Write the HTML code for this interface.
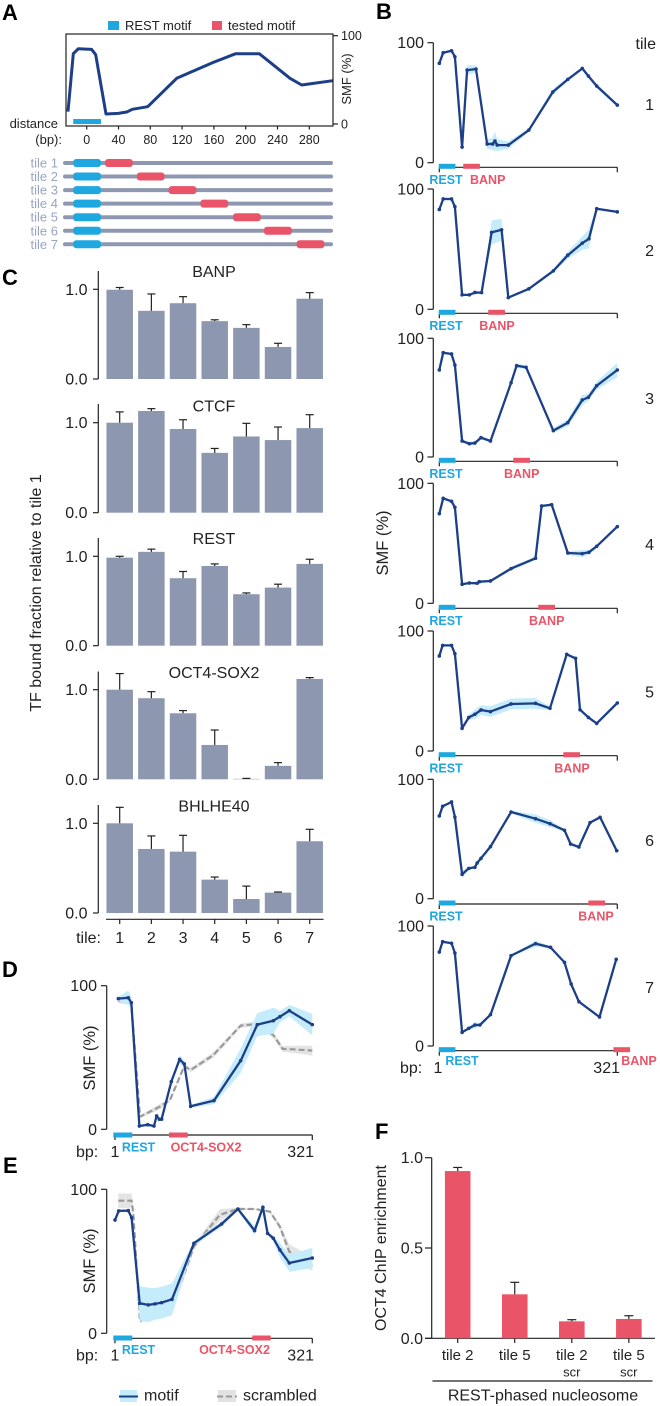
<!DOCTYPE html>
<html lang="en">
<head>
<meta charset="utf-8">
<title>REST-phased nucleosome SMF figure</title>
<style>
html,body{margin:0;padding:0;background:#fff;width:660px;height:1406px;overflow:hidden}
svg{display:block;font-family:"Liberation Sans",sans-serif;fill:#222}
.panel{font-size:22px;font-weight:bold;fill:#000}
.tk{font-size:16px}
.sm{font-size:13px}
.tl{font-size:13px;fill:#97a4c4}
.mb{font-size:12.5px;font-weight:bold;fill:#1fa8e0}
.mr{font-size:12.5px;font-weight:bold;fill:#ea5468}
</style>
</head>
<body>
<svg id="fig" xmlns="http://www.w3.org/2000/svg" width="660" height="1406" viewBox="0 0 660 1406">
  <defs><clipPath id="frameClip"><rect x="66" y="34" width="267" height="92"/></clipPath></defs>

  <text class="panel" x="2" y="20">A</text>
  <text class="panel" x="376" y="19">B</text>
  <text class="panel" x="2" y="285">C</text>
  <text class="panel" x="2" y="977">D</text>
  <text class="panel" x="3" y="1173">E</text>
  <text class="panel" x="375" y="1139">F</text>

  <!-- Panel A legend and labels -->
  <rect x="108" y="21" width="11" height="9" fill="#1fa8e0"/>
  <text x="125" y="30" font-size="13">REST motif</text>
  <rect x="212" y="21" width="10" height="9" fill="#ea5468"/>
  <text x="228" y="30" font-size="13">tested motif</text>
  <text class="sm" x="58" y="128" text-anchor="end">distance</text>
  <text class="sm" x="62" y="144" text-anchor="end">(bp):</text>
  <text font-size="13" transform="translate(351,79) rotate(-90)" text-anchor="middle">SMF (%)</text>

  <!-- Panel B static labels -->
  <text class="tk" x="656" y="49" text-anchor="end">tile</text>
  <text class="tk" transform="translate(388,543) rotate(-90)" text-anchor="middle" style="font-size:16.5px">SMF (%)</text>
  <text class="tk" x="400" y="1073">bp:</text>
  <text class="tk" x="438" y="1073" text-anchor="middle">1</text>
  <text class="tk" x="620" y="1073" text-anchor="end">321</text>

  <!-- Panel C static labels -->
  <text class="tk" transform="translate(41,593) rotate(-90)" text-anchor="middle">TF bound fraction relative to tile 1</text>
  <text class="tk" x="101" y="943" text-anchor="end">tile:</text>

  <!-- Panel D static labels -->
  <text class="tk" transform="translate(95,1058) rotate(-90)" text-anchor="middle" style="font-size:16.5px">SMF (%)</text>
  <text class="mb" x="138.5" y="1151.5" text-anchor="middle">REST</text>
  <text class="mr" x="206" y="1151.5" text-anchor="middle">OCT4-SOX2</text>
  <text class="tk" x="76" y="1157">bp:</text>
  <text class="tk" x="115" y="1157" text-anchor="middle">1</text>
  <text class="tk" x="314" y="1157" text-anchor="end">321</text>

  <!-- Panel E static labels -->
  <text class="tk" transform="translate(95,1261) rotate(-90)" text-anchor="middle" style="font-size:16.5px">SMF (%)</text>
  <text class="mb" x="138.5" y="1354" text-anchor="middle">REST</text>
  <text class="mr" x="234.5" y="1354" text-anchor="middle">OCT4-SOX2</text>
  <text class="tk" x="76" y="1360.5">bp:</text>
  <text class="tk" x="115" y="1360.5" text-anchor="middle">1</text>
  <text class="tk" x="314" y="1360.5" text-anchor="end">321</text>

  <!-- D/E legend -->
  <rect x="120" y="1390" width="17" height="12" fill="#c5ecfa"/>
  <line x1="119" x2="138" y1="1396.5" y2="1396.5" stroke="#1c3f87" stroke-width="2"/>
  <text class="tk" x="144" y="1400.5">motif</text>
  <rect x="218" y="1390" width="18" height="12" fill="#e2e2e2"/>
  <line x1="217" x2="237" y1="1396.5" y2="1396.5" stroke="#999" stroke-width="2" stroke-dasharray="6 3"/>
  <text class="tk" x="243" y="1400.5">scrambled</text>

  <!-- Panel F static labels -->
  <text class="tk" transform="translate(386,1248) rotate(-90)" text-anchor="middle">OCT4 ChIP enrichment</text>
  <line x1="432.5" x2="652.5" y1="1381" y2="1381" stroke="#222" stroke-width="1.2"/>
  <text class="tk" x="543" y="1400.5" text-anchor="middle">REST-phased nucleosome</text>
</svg>

<script>
// ---------- Panel A data ----------
const aBp = [-23.5,-16.8,-10.5,6.2,11.3,24.3,39.8,50.3,57.4,76.7,113.2,159.3,187.4,217.1,255.7,270.4,309.4];
const aSmf = [14,79.6,85.3,84.5,78.5,11.3,12,13.6,16.6,19.6,51.7,69.8,79.6,79.6,51.7,44.2,49];
const aTicks = [0,40,80,120,160,200,240,280];
const aTileNames = ['tile 1','tile 2','tile 3','tile 4','tile 5','tile 6','tile 7'];
const aTestedStart = [23,63,103,143,184,223,264];
const aYTicks = [0,100];

// ---------- Panel B data ----------
const tile1Bp = [1,8,23,29,42,51,67,87,97,101,105,125,162,205,232,258,269,284,321];
const tile1Smf = [82.8,91.7,93.3,88.3,13,77.2,78,15.6,15.6,18,14.7,14.7,27.2,58.9,69.4,78.6,72.2,63.9,48];
const tile1Band = [1,1,1,1,3,4,3,4,5,8,5,3,1.5,2.5,1.5,1,1.5,2,1];
const tile2Bp = [1,8,23,29,42,55,65,77,95,113,125,162,206,232,258,270,284,321];
const tile2Smf = [83,91.7,91.7,85.3,12,12,14,13.9,63.9,66.1,9.7,17,31.9,45,55,58.6,83.6,81];
const tile2Band = [1,1,1,1,1,1,1,1,10,9,1,1,1.5,3,5.5,8,1,1];
const tile3Bp = [1,8,23,29,42,55,65,76,93,130,140,157,206,232,258,269,284,321];
const tile3Smf = [73.3,87.9,86.8,77.5,13.5,11.2,11.8,16.3,13.5,62.6,76.9,75.6,22.2,28.9,48,50.3,60.1,73.3];
const tile3Band = [1,1,1,1,1,1.5,1.5,1.5,1,1,2,1.5,2,3,4.5,3,3.5,6];
const tile4Bp = [1,8,23,29,42,55,69,73,93,130,174,185,203,232,258,270,284,321];
const tile4Smf = [74.7,87.5,85,80,15.8,16.9,16.7,18,18.6,28.9,37.5,81.1,82.2,41.9,41.4,42.5,47.5,63.9];
const tile4Band = [1,1.5,1,1,1,1,1,1,1,1.5,1.5,1,1,1.5,3,2,1,1];
const tile5Bp = [1,7,23,29,42,54,65,76,93,130,174,200,230,246,254,269,284,321];
const tile5Smf = [79.2,88,88,81.1,18.9,28,30.6,34.2,32.8,39.2,39.7,35.6,80.6,77.2,34.4,28,23,40];
const tile5Band = [1,1,1,1,1.5,2,4,4,4.5,4.5,4.5,1.5,1,1,1,1,1,1];
const tile6Bp = [1,7,23,29,42,54,65,69,76,93,130,174,200,226,237,252,272,290,320];
const tile6Smf = [69.3,77.4,81,68.4,20.4,25.4,26.3,29.9,33.8,43.6,72.6,67,62.8,57.3,45.8,43.3,63.7,68.2,40.2];
const tile6Band = [1,1,1,1,3,1,1,1,1,1,1,3.5,3,1,1,1,1,1,1];
const tile7Bp = [1,7,23,29,42,54,65,74,93,130,174,201,226,238,252,289,319];
const tile7Smf = [78.3,86.9,85.6,77.5,11.4,14.7,17.5,17.5,26.1,75.3,85.3,82.2,69.7,51.7,36.9,24.2,72.2];
const tile7Band = [.5,.5,1,.5,1,1,3,1,.5,.5,2.5,1,.5,.5,.5,.5,1];
const allTileBp = [tile1Bp,tile2Bp,tile3Bp,tile4Bp,tile5Bp,tile6Bp,tile7Bp];
const allTileSmf = [tile1Smf,tile2Smf,tile3Smf,tile4Smf,tile5Smf,tile6Smf,tile7Smf];
const allTileBand = [tile1Band,tile2Band,tile3Band,tile4Band,tile5Band,tile6Band,tile7Band];
const banpMotifStart = [44,89,134,179,224,269,314];
const motifLength = 30;
const smfTicks = [0,100];
const tileNumbers = ['1','2','3','4','5','6','7'];

// ---------- Panel C data ----------
const cTargets = ['BANP','CTCF','REST','OCT4-SOX2','BHLHE40'];
const banpValues = [.995,.76,.845,.645,.57,.357,.895];
const banpErrorTops = [1.02,.948,.918,.66,.606,.398,.963];
const ctcfValues = [1,1.13,.93,.665,.847,.807,.94];
const ctcfErrorTops = [1.12,1.156,1.033,.714,.993,.952,1.089];
const restValues = [.985,1.05,.755,.892,.576,.65,.915];
const restErrorTops = [1,1.08,.83,.915,.59,.688,.967];
const octValues = [1,.905,.737,.383,.005,.15,1.12];
const octErrorTops = [1.18,.978,.767,.55,.01,.186,1.135];
const bhlheValues = [1,.714,.684,.372,.156,.227,.8];
const bhlheErrorTops = [1.178,.859,.866,.401,.3,.234,.933];
const cValues = [banpValues,ctcfValues,restValues,octValues,bhlheValues];
const cErrorTops = [banpErrorTops,ctcfErrorTops,restErrorTops,octErrorTops,bhlheErrorTops];
const cCategories = ['1','2','3','4','5','6','7'];
const cYTicks = [0,1];

// ---------- Panel D data ----------
const dMotifBp = [6.4,22.6,27.5,40.5,54,64.2,68.5,72.9,76.6,92.3,105.8,113.4,123.7,161.5,204.8,231.8,257.7,268.5,283.7,321];
const dMotifSmf = [91,91.6,88.2,2.3,3.2,2.3,9.3,7,7,33.2,48.7,45.5,16,20,47.8,72.9,75.6,78.4,82.6,72.9];
const dMotifBand = [1.5,5,4,1,1,1,1,1,1,1,3,2,1,2.5,8.5,8,9,4,4,7.5];
const dScrBp = [6.4,22.6,27.5,41.5,74,90.2,113.4,123.7,160.5,204.8,231.8,257.7,272.9,290,321];
const dScrSmf = [89.6,88.9,87.7,8.8,15.8,20.4,44,41.3,51.7,72.2,73.3,65.7,56,55.7,54.8];
const dScrBand = [2,2,1,1,2,1,1,1.5,2,1.5,2,2,2,2.5,3.5];

// ---------- Panel E data ----------
const eMotifBp = [1,7,22.6,28,41,55,65.9,76.6,93.4,129,173.9,200.4,227.4,240.9,248.5,257.7,268.5,283.7,321];
const eMotifSmf = [78.7,85,85.2,80.3,20.8,19.7,20.4,21.3,23.6,62.5,75.9,86.3,71.3,87.5,69.4,66,57.9,48.8,52.3];
const eMotifBand = [.5,1,1,1,12,12,11,11,11,1.5,2,1,3,3,1,2,5,6,7];
const eScrBp = [6.4,28,30.7,41.5,55,68.5,93,129,171,200.4,227.4,252.3,268.5,283.7,301,321];
const eScrSmf = [92.1,92.1,83.3,8.1,12.7,13.9,16.2,60.2,82.2,86.3,86.3,84.5,74,56.7,52.8,46.3];
const eScrBand = [5,5,3,1,2,3,3,1.5,4,1,.5,1,2,5,5,3];

// ---------- Panel F data ----------
const fCategories = ['tile 2','tile 5','tile 2','tile 5'];
const fSubLabels = ['','','scr','scr'];
const fValues = [.926,.2435,.094,.107];
const fErrorTops = [.946,.31,.103,.125];
const fYTicks = ['0.0','0.5','1.0'];
const fYTickValues = [0,.5,1];

// ---------- drawing ----------
const svg = document.getElementById('fig');
const NS = 'http://www.w3.org/2000/svg';
const BLUE = '#1fa8e0', RED = '#ea5468', NAVY = '#1c3f87', BAND = '#c5ecfa', INK = '#222', SLATE = '#8d98b0';

function make(tag, attrs, text) {
  const n = document.createElementNS(NS, tag);
  for (const k in attrs) n.setAttribute(k, attrs[k]);
  if (text !== undefined) n.textContent = text;
  svg.appendChild(n);
  return n;
}
function rule(x1, y1, x2, y2, sw) {
  const el = make('line', {x1, y1, x2, y2, stroke: INK, 'stroke-width': sw || 1.2});
  
  
  return el;
}
function tickText(x, y, anchor, txt, cls) {
  const el = make('text', {x, y, 'text-anchor': anchor, class: cls}, txt);
  
  
  return el;
}
function pathFrom(xs, ys, xf, yf) {
  return xs.map((v, i) => (i ? 'L' : 'M') + xf(v).toFixed(1) + ' ' + yf(ys[i]).toFixed(1)).join('');
}
function bandPoints(xs, ys, hs, xf, yf) {
  const up = xs.map((v, i) => xf(v).toFixed(1) + ',' + yf(ys[i] + hs[i]).toFixed(1));
  const lo = xs.map((v, i) => xf(v).toFixed(1) + ',' + yf(ys[i] - hs[i]).toFixed(1)).reverse();
  return up.concat(lo).join(' ');
}
function drawMotifSeries(xs, ys, hs, xf, yf) {
  const b = make('polygon', {points: bandPoints(xs, ys, hs, xf, yf), fill: BAND});
  
  
  const l = make('path', {d: pathFrom(xs, ys, xf, yf), fill: 'none', stroke: NAVY, 'stroke-width': 2.3, 'stroke-linejoin': 'round'});
  
  
  xs.forEach((v, i) => {
    const c = make('circle', {cx: xf(v), cy: yf(ys[i]), r: 1.8, fill: NAVY});
    
    
  });
}
function drawScrambled(xs, ys, hs, xf, yf) {
  const b = make('polygon', {points: bandPoints(xs, ys, hs, xf, yf), fill: '#d8d8d8', 'fill-opacity': .7});
  
  
  const l = make('path', {d: pathFrom(xs, ys, xf, yf), fill: 'none', stroke: '#9a9a9a', 'stroke-width': 2.2, 'stroke-dasharray': '6 3'});
  
  
}
function motifBar(x1, x2, y, color) {
  const el = make('rect', {x: x1, y: y - 2.5, width: x2 - x1, height: 5, fill: color});
  
  
  return el;
}

// Panel A
(function () {
  const xA = d => 86.7 + d * 0.795;
  const yA = v => 124 - v * 0.883;
  const mot = make('rect', {x: xA(-17), y: 119, width: xA(18) - xA(-17), height: 5, fill: BLUE});
  
  
  const ln = make('path', {d: pathFrom(aBp, aSmf, xA, yA), fill: 'none', stroke: NAVY, 'stroke-width': 3, 'clip-path': 'url(#frameClip)', 'stroke-linejoin': 'round'});
  
  
  const fr = make('rect', {x: 66, y: 34, width: 267, height: 92, fill: 'none', stroke: INK, 'stroke-width': 1.2});
  
  
  aTicks.forEach(t => {
    rule(xA(t), 126, xA(t), 129.5);
    const lb = make('text', {x: xA(t), y: 144, 'text-anchor': 'middle', 'font-size': 12.5}, String(t));
    
    
  });
  aYTicks.forEach(t => {
    rule(333, yA(t), 338, yA(t));
    const lb = make('text', {x: 341, y: yA(t) + 4.5, 'font-size': 12.5}, String(t));
    
    
  });
  aTileNames.forEach((name, i) => {
    const y = 163 + i * 13.55;
    const lb = make('text', {x: 58, y: y + 4.5, 'text-anchor': 'end', class: 'tl'}, name);
    
    
    const tr = make('rect', {x: 63, y: y - 2, width: 270, height: 4, rx: 2, fill: SLATE});
    
    
    const bp = make('rect', {x: xA(-17), y: y - 4, width: xA(18) - xA(-17), height: 8, rx: 3, fill: BLUE});
    
    
    const rp = make('rect', {x: xA(aTestedStart[i]), y: y - 4, width: 35 * 0.795, height: 8, rx: 3, fill: RED});
    
    
  });
})();

// Panel B
const bLayout = [
  {top: 42.7, zero: 162.7, axis: 167.3, lab: 184, numY: 110, banpX: 487.7},
  {top: 189, zero: 309.3, axis: 313.3, lab: 330, numY: 256, banpX: 497},
  {top: 338.3, zero: 457, axis: 461.3, lab: 478, numY: 404, banpX: 521.7},
  {top: 483.3, zero: 603.3, axis: 608.3, lab: 625, numY: 550, banpX: 546.7},
  {top: 631, zero: 751, axis: 755.7, lab: 772.5, numY: 697.5, banpX: 572},
  {top: 779.3, zero: 898.7, axis: 904, lab: 920.5, numY: 846, banpX: 596},
  {top: 926, zero: 1046, axis: 1050.7, lab: 1065, numY: 993, banpX: 639}
];
const xB = bp => 439.3 + (bp - 1) * 178 / 320;
bLayout.forEach((row, i) => {
  const yB = v => row.zero - v * (row.zero - row.top) / 100;
  rule(433.3, row.top, 433.3, row.zero);
  smfTicks.forEach(t => {
    rule(427.5, yB(t), 433.3, yB(t));
    tickText(424, yB(t) + 5.5, 'end', String(t), 'tk');
  });
  rule(439.3, row.axis, 617.3, row.axis);
  rule(439.3, row.axis, 439.3, row.axis + 5);
  rule(617.3, row.axis, 617.3, row.axis + 5);
  drawMotifSeries(allTileBp[i], allTileSmf[i], allTileBand[i], xB, yB);
  motifBar(xB(0), xB(30), row.axis - 1, BLUE);
  motifBar(xB(banpMotifStart[i]), xB(banpMotifStart[i] + motifLength), row.axis - 1, RED);
  const r = make('text', {x: i === 6 ? 462 : 446, y: row.lab, 'text-anchor': 'middle', class: 'mb'}, 'REST');
  
  
  const b = make('text', {x: row.banpX, y: row.lab, 'text-anchor': 'middle', class: 'mr'}, 'BANP');
  
  
  tickText(654, row.numY, 'end', tileNumbers[i], 'tk');
});

// Panel C
const cLayout = [
  {one: 289.3, zero: 379, top: 271, titleY: 277},
  {one: 422.7, zero: 512.7, top: 404, titleY: 411.7},
  {one: 556.3, zero: 645.7, top: 538, titleY: 544},
  {one: 689.7, zero: 779.3, top: 671.5, titleY: 678},
  {one: 823.3, zero: 913, top: 805, titleY: 811.7}
];
const xC = i => 119.7 + i * 31.67;
cLayout.forEach((row, k) => {
  const yC = v => row.zero - v * (row.zero - row.one);
  rule(98.3, row.top, 98.3, row.zero);
  cYTicks.forEach(t => {
    rule(93, yC(t), 98.3, yC(t));
    tickText(87.5, yC(t) + 5.5, 'end', t.toFixed(1), 'tk');
  });
  const ttl = make('text', {x: 214, y: row.titleY, 'text-anchor': 'middle', class: 'tk'}, cTargets[k]);
  
  
  cValues[k].forEach((v, i) => {
    const bar = make('rect', {x: xC(i) - 13.25, y: yC(v), width: 26.5, height: row.zero - yC(v), fill: SLATE});
    
    
    rule(xC(i), yC(v), xC(i), yC(cErrorTops[k][i]));
    rule(xC(i) - 4, yC(cErrorTops[k][i]), xC(i) + 4, yC(cErrorTops[k][i]));
  });
});
rule(106, 919.3, 323.5, 919.3);
cCategories.forEach((c, i) => {
  rule(xC(i), 919.3, xC(i), 924);
  tickText(xC(i), 943, 'middle', c, 'tk');
});

// Panel D
(function () {
  const xD = bp => 115 + (bp - 1) * 197.3 / 320;
  const yD = v => 1129.3 - v * 1.436;
  rule(106.7, yD(100), 106.7, yD(0));
  smfTicks.forEach(t => {
    rule(101, yD(t), 106.7, yD(t));
    tickText(97, yD(t) + 5.5, 'end', String(t), 'tk');
  });
  rule(115, 1135, 312.3, 1135);
  rule(115, 1135, 115, 1140);
  rule(312.3, 1135, 312.3, 1140);
  drawScrambled(dScrBp, dScrSmf, dScrBand, xD, yD);
  drawMotifSeries(dMotifBp, dMotifSmf, dMotifBand, xD, yD);
  motifBar(113.3, 132.3, 1135, BLUE);
  motifBar(169, 187.7, 1135, RED);
})();

// Panel E
(function () {
  const xE = bp => 115 + (bp - 1) * 197.3 / 320;
  const yE = v => 1333.3 - v * 1.44;
  rule(106.7, yE(100), 106.7, yE(0));
  smfTicks.forEach(t => {
    rule(101, yE(t), 106.7, yE(t));
    tickText(97, yE(t) + 5.5, 'end', String(t), 'tk');
  });
  rule(115, 1338.3, 312.3, 1338.3);
  rule(115, 1338.3, 115, 1343.3);
  rule(312.3, 1338.3, 312.3, 1343.3);
  drawScrambled(eScrBp, eScrSmf, eScrBand, xE, yE);
  drawMotifSeries(eMotifBp, eMotifSmf, eMotifBand, xE, yE);
  motifBar(113.3, 132.3, 1338, BLUE);
  motifBar(252.3, 270.7, 1338, RED);
})();

// Panel F
(function () {
  const yF = v => 1338.3 - v * 180.6;
  const xF = i => 457.7 + i * 57.05;
  rule(431.7, yF(1), 431.7, yF(0));
  rule(425, yF(0), 655, yF(0));
  fYTickValues.forEach((t, i) => {
    rule(425, yF(t), 431.7, yF(t));
    tickText(423, yF(t) + 5.5, 'end', fYTicks[i], 'tk');
  });
  fValues.forEach((v, i) => {
    const bar = make('rect', {x: xF(i) - 12.8, y: yF(v), width: 25.6, height: 1338.3 - yF(v), fill: RED});
    
    
    rule(xF(i), yF(v), xF(i), yF(fErrorTops[i]));
    rule(xF(i) - 4.5, yF(fErrorTops[i]), xF(i) + 4.5, yF(fErrorTops[i]));
    rule(xF(i), 1338.3, xF(i), 1343);
    const lb = make('text', {x: xF(i), y: 1360, 'text-anchor': 'middle', 'font-size': 15}, fCategories[i]);
    
    
    if (fSubLabels[i]) {
      const sb = make('text', {x: xF(i), y: 1376.5, 'text-anchor': 'middle', 'font-size': 13}, fSubLabels[i]);
      
      
    }
  });
})();
</script>
</body>
</html>
